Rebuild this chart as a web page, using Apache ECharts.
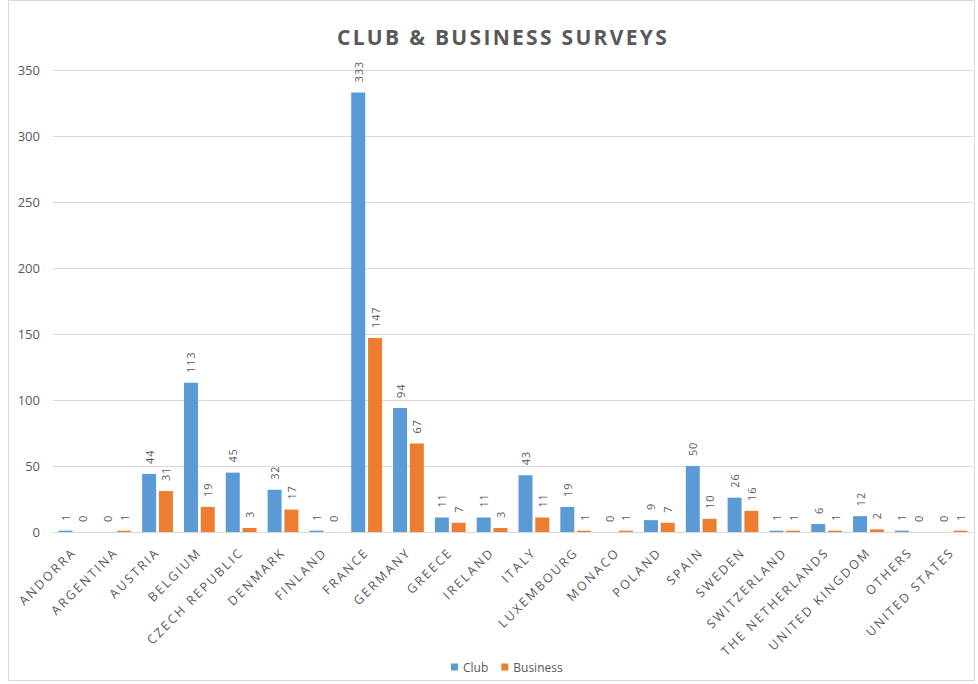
<!DOCTYPE html>
<html>
<head>
<meta charset="utf-8">
<script src="https://cdn.jsdelivr.net/npm/echarts@6/dist/echarts.min.js"></script>
<style>html,body{margin:0;padding:0;background:#fff;}#c{width:978px;height:684px;}</style>
</head>
<body>
<div id="c"></div>
<script>
const categories = ["ANDORRA","ARGENTINA","AUSTRIA","BELGIUM","CZECH REPUBLIC","DENMARK","FINLAND","FRANCE","GERMANY","GREECE","IRELAND","ITALY","LUXEMBOURG","MONACO","POLAND","SPAIN","SWEDEN","SWITZERLAND","THE NETHERLANDS","UNITED KINGDOM","OTHERS","UNITED STATES"];
const clubValues = [1,0,44,113,45,32,1,333,94,11,11,43,19,0,9,50,26,1,6,12,1,0];
const businessValues = [0,1,31,19,3,17,0,147,67,7,3,11,1,1,7,10,16,1,1,2,0,1];
const yTicks = {min:0, max:350, interval:50};
const titleText = 'CLUB & BUSINESS SURVEYS';

const chart = echarts.init(document.getElementById('c'), null, {renderer:'svg'});
const labelCfg = {
  show:true, position:'top', rotate:90, align:'left', verticalAlign:'middle',
  distance:10, color:'#595959', fontSize:11, fontFamily:'Open Sans'
};
chart.setOption({
  animation:false,
  backgroundColor:'#fff',
  title:{
    text:titleText, left:498, top:21, textAlign:'center',
    textStyle:{color:'#595959', fontSize:21, fontWeight:'bold', fontFamily:'Open Sans'}
  },
  legend:{
    data:['Club','Business'], left:446, top:656, itemWidth:7, itemHeight:7, itemGap:13,
    icon:'rect',
    textStyle:{color:'#595959', fontSize:12, fontFamily:'Open Sans'}
  },
  grid:{left:53, right:5, top:70, bottom:152, containLabel:false},
  xAxis:{
    type:'category', data:categories,
    axisLine:{lineStyle:{color:'#d9d9d9'}}, axisTick:{show:false},
    axisLabel:{interval:0, rotate:45, color:'#595959', fontSize:12.5, fontFamily:'Open Sans', margin:18}
  },
  yAxis:{
    type:'value', min:yTicks.min, max:yTicks.max, interval:yTicks.interval,
    axisLine:{show:false}, axisTick:{show:false},
    splitLine:{lineStyle:{color:'#d9d9d9'}},
    axisLabel:{color:'#595959', fontSize:13, fontFamily:'Open Sans', margin:13}
  },
  series:[
    {name:'Club', type:'bar', data:clubValues, barWidth:14, barGap:'20%',
     itemStyle:{color:'#5B9BD5'}, label:labelCfg},
    {name:'Business', type:'bar', data:businessValues, barWidth:14,
     itemStyle:{color:'#ED7D31'}, label:labelCfg}
  ],
  graphic:[{type:'rect', shape:{x:8.5, y:0.5, width:966, height:680}, style:{fill:null, stroke:'#d9d9d9', lineWidth:1}, silent:true}]
});

function applySpacing(){
  const texts = document.querySelectorAll('#c svg text');
  texts.forEach(t => {
    const s = t.textContent.trim();
    const tr = t.getAttribute('transform') || '';
    const m = tr.match(/matrix\(([^)]+)\)/);
    let rotated = false;
    if (m) { const p = m[1].split(/[ ,]+/).map(Number); rotated = Math.abs(p[1]) > 0.01; }
    if (s === titleText) t.setAttribute('letter-spacing', '2.3');
    else if (rotated && /^\d+$/.test(s)) t.setAttribute('letter-spacing', '0.8');
    else if (rotated && categories.includes(s)) t.setAttribute('letter-spacing', '2.2');
  });
}
applySpacing();
chart.on('finished', applySpacing);
setTimeout(applySpacing, 50);
</script>
</body>
</html>
